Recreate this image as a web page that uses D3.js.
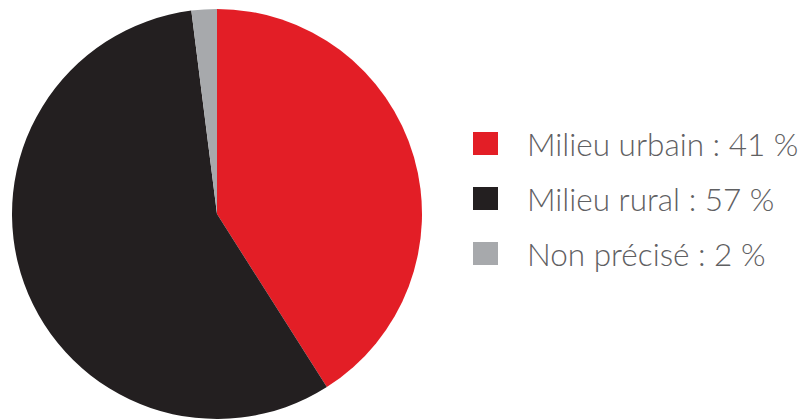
<!DOCTYPE html>
<html>
<head>
<meta charset="utf-8">
<script src="https://cdn.jsdelivr.net/npm/d3@7"></script>
<style>
  body { margin: 0; background: #fff; }
  svg { display: block; }
</style>
</head>
<body>
<script>
/* data */
const categories = ['Milieu urbain', 'Milieu rural', 'Non précisé'];
const values = [41, 57, 2];
const colors = ['#e31e26', '#231f20', '#a7a9ac'];

const width = 798, height = 419;
const cx = 217, cy = 214, radius = 205;

const svg = d3.select('body').append('svg')
  .attr('width', width)
  .attr('height', height);

/* pie */
const pie = d3.pie().sort(null).value(d => d);
const arc = d3.arc().innerRadius(0).outerRadius(radius);
const color = d3.scaleOrdinal().domain(categories).range(colors);

svg.append('g')
  .attr('transform', `translate(${cx},${cy})`)
  .selectAll('path')
  .data(pie(values))
  .enter().append('path')
  .attr('d', arc)
  .style('fill', (d, i) => color(categories[i]));

/* legend */
const legend = svg.selectAll('.legend')
  .data(categories)
  .enter().append('g')
  .attr('class', 'legend')
  .attr('transform', (d, i) => `translate(473, ${132 + i * 55})`);

legend.append('rect')
  .attr('width', 25)
  .attr('height', 23)
  .style('fill', color);

legend.append('text')
  .attr('x', 54)
  .attr('y', 24)
  .style('font-family', 'Lato, sans-serif')
  .style('font-weight', 300)
  .style('font-size', '31.5px')
  .style('fill', '#5f6062')
  .text((d, i) => `${d} : ${values[i]} %`);
</script>
</body>
</html>
